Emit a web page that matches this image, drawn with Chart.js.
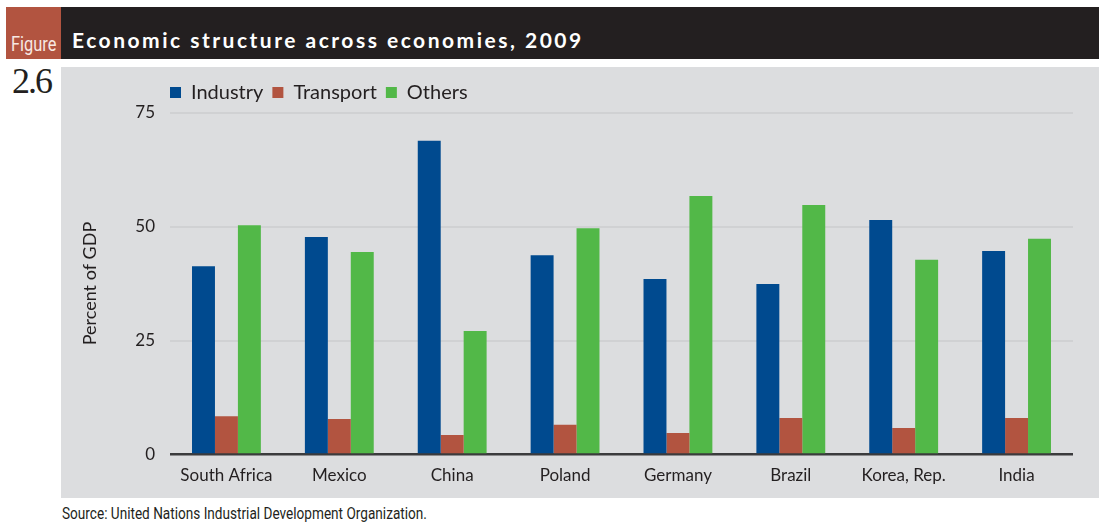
<!DOCTYPE html>
<html lang="en">
<head>
<meta charset="utf-8">
<title>Economic structure across economies, 2009</title>
<script src="https://cdn.jsdelivr.net/npm/chart.js@4.4.1/dist/chart.umd.min.js"></script>
<style>
    body {
        margin: 0;
        width: 1102px;
        height: 522px;
        background: #ffffff;
        position: relative;
        overflow: hidden;
        font-family: Lato, sans-serif;
        color: #231f20;
    }
    .fig-tag {
        position: absolute;
        left: 6px;
        top: 7px;
        width: 55px;
        height: 52px;
        background: #b25440;
    }
    .fig-tag span {
        position: absolute;
        left: 5px;
        top: 25px;
        line-height: 24px;
        font-size: 21px;
        font-family: Roboto, sans-serif;
        color: #f7e9e3;
        transform: scaleX(0.78);
        transform-origin: left top;
    }
    .fig-bar {
        position: absolute;
        left: 61px;
        top: 7px;
        width: 1038px;
        height: 52px;
        background: #231f20;
    }
    .fig-bar h1 {
        position: absolute;
        left: 11px;
        top: 20px;
        margin: 0;
        line-height: 25px;
        font-size: 21px;
        font-weight: 700;
        letter-spacing: 2.5px;
        color: #ffffff;
        white-space: nowrap;
    }
    .fig-num {
        position: absolute;
        left: 12px;
        top: 61px;
        line-height: 40px;
        font-size: 36px;
        font-family: "Liberation Serif", "DejaVu Serif", serif;
        letter-spacing: -2px;
    }
    .panel {
        position: absolute;
        left: 61px;
        top: 67px;
        width: 1038px;
        height: 431px;
        background: #dcdddf;
    }
    .source {
        position: absolute;
        left: 62px;
        top: 505px;
        line-height: 18px;
        font-size: 16px;
        font-family: Roboto, sans-serif;
        white-space: nowrap;
        transform: scaleX(0.85);
        transform-origin: left top;
    }
</style>
</head>
<body>
<div class="fig-tag"><span>Figure</span></div>
<div class="fig-bar"><h1>Economic structure across economies, 2009</h1></div>
<div class="fig-num">2.6</div>
<div class="panel"><canvas id="structure-chart" width="1038" height="431"></canvas></div>
<div class="source">Source: United Nations Industrial Development Organization.</div>

<script>
// Share of GDP by sector, 2009
const categories = ['South Africa', 'Mexico', 'China', 'Poland', 'Germany', 'Brazil', 'Korea, Rep.', 'India'];
const industry = [41.3, 47.7, 68.8, 43.7, 38.5, 37.4, 51.4, 44.6];
const transport = [8.4, 7.8, 4.3, 6.5, 4.7, 8.0, 5.8, 8.0];
const others = [50.3, 44.4, 27.1, 49.6, 56.7, 54.7, 42.7, 47.3];
const yTicks = [0, 25, 50, 75];

const textColor = '#231f20';

// The legend starts above the plot area, not at the canvas edge
const legendShift = {
    id: 'legendShift',
    afterLayout(chart) {
        const legend = chart.legend;
        const pad = chart.options.plugins.legend.labels.padding;
        const offset = chart.chartArea.left - pad - legend.left;
        legend.left += offset;
        legend.right += offset;
    }
};

const ctx = document.getElementById('structure-chart');

new Chart(ctx, {
    type: 'bar',
    data: {
        labels: categories,
        datasets: [
            {label: 'Industry', data: industry, backgroundColor: '#004a8f'},
            {label: 'Transport', data: transport, backgroundColor: '#b25440'},
            {label: 'Others', data: others, backgroundColor: '#52b848'}
        ]
    },
    options: {
        responsive: false,
        animation: false,
        events: [],
        categoryPercentage: 0.61,
        barPercentage: 1,
        layout: {
            padding: {top: 6.5, right: 26, bottom: 0, left: 0}
        },
        plugins: {
            tooltip: {enabled: false},
            legend: {
                position: 'top',
                align: 'start',
                labels: {
                    color: textColor,
                    boxWidth: 11,
                    boxHeight: 11,
                    padding: 9,
                    font: {family: 'Lato', size: 20}
                }
            }
        },
        scales: {
            x: {
                grid: {display: false},
                border: {display: false},
                ticks: {
                    color: textColor,
                    padding: 3,
                    font: {family: 'Lato', size: 17}
                },
                afterFit(scale) {
                    scale.height = 43.5;
                }
            },
            y: {
                min: 0,
                max: 75,
                afterBuildTicks(scale) {
                    scale.ticks = yTicks.map(v => ({value: v}));
                },
                border: {display: false},
                grid: {
                    drawTicks: false,
                    color: c => c.tick.value === 0 ? '#3b3b3d' : '#d0d1d3',
                    lineWidth: c => c.tick.value === 0 ? 2.5 : 2
                },
                ticks: {
                    color: textColor,
                    padding: 15,
                    font: {family: 'Lato', size: 17}
                },
                title: {
                    display: true,
                    text: 'Percent of GDP',
                    color: textColor,
                    padding: {top: 18, bottom: 0},
                    font: {family: 'Lato', size: 18}
                },
                afterFit(scale) {
                    scale.width = 109;
                }
            }
        }
    },
    plugins: [legendShift]
});
</script>
</body>
</html>
